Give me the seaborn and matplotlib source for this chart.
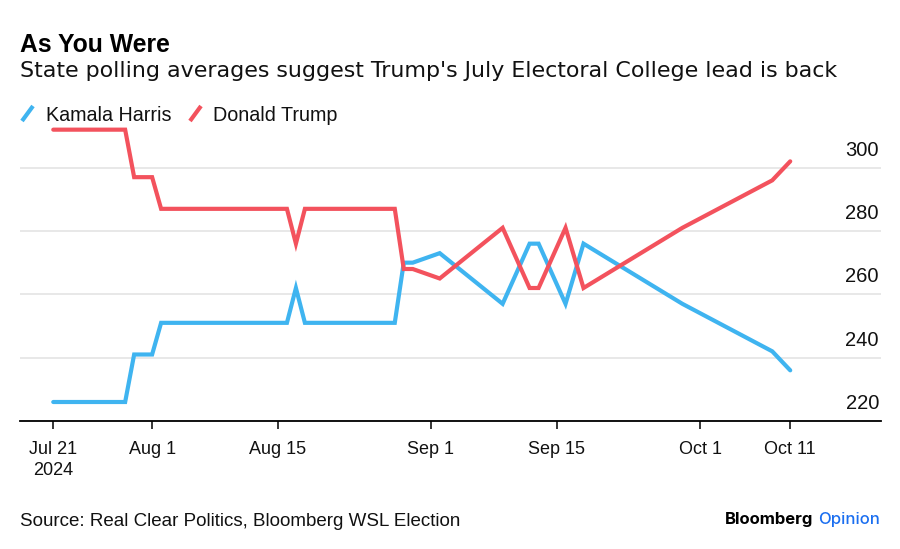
import matplotlib
matplotlib.use("Agg")
import matplotlib.pyplot as plt
import matplotlib.transforms as mtransforms
from matplotlib.lines import Line2D
import seaborn as sns
import pandas as pd

# ---- data ----
dates = ["2024-07-21", "2024-07-29", "2024-07-30", "2024-08-01", "2024-08-02",
         "2024-08-16", "2024-08-17", "2024-08-18", "2024-08-28", "2024-08-29",
         "2024-08-30", "2024-09-02", "2024-09-09", "2024-09-12", "2024-09-13",
         "2024-09-16", "2024-09-18", "2024-09-29", "2024-10-09", "2024-10-11"]
harris = [226, 226, 241, 241, 251, 251, 262, 251, 251, 270,
          270, 273, 257, 276, 276, 257, 276, 257, 242, 236]
trump = [312, 312, 297, 297, 287, 287, 276, 287, 287, 268,
         268, 265, 281, 262, 262, 281, 262, 281, 296, 302]
series_names = ["Kamala Harris", "Donald Trump"]
colors = ["#3FB4F0", "#F3525D"]
x_tick_dates = ["2024-07-21", "2024-08-01", "2024-08-15", "2024-09-01",
                "2024-09-15", "2024-10-01", "2024-10-11"]
x_tick_labels = ["Jul 21\n2024", "Aug 1", "Aug 15", "Sep 1", "Sep 15", "Oct 1", "Oct 11"]
y_ticks = [220, 240, 260, 280, 300]
y_tick_labels = ["220", "240", "260", "280", "300"]

title = "As You Were"
subtitle = "State polling averages suggest Trump's July Electoral College lead is back"
source = "Source: Real Clear Politics, Bloomberg WSL Election"

df = pd.DataFrame({
    "date": pd.to_datetime(dates * 2),
    "votes": harris + trump,
    "candidate": [series_names[0]] * len(dates) + [series_names[1]] * len(dates),
})

sns.set_theme(style="white")
FONT = ["Liberation Sans", "DejaVu Sans"]
plt.rcParams["font.family"] = FONT

W, H = 900, 549
fig = plt.figure(figsize=(W / 100, H / 100), dpi=100)

def fx(px):
    return px / W

def fy(py):
    return 1 - py / H

def fit_width(txt, target_px):
    """Scale a text's font size so it spans target_px pixels."""
    fig.canvas.draw()
    r = fig.canvas.get_renderer()
    w = txt.get_window_extent(renderer=r).width
    txt.set_fontsize(txt.get_fontsize() * target_px / w)

# axes: left 20px, right 881px, bottom 421px, top 117px
ax = fig.add_axes([fx(20), fy(421), fx(881) - fx(20), fy(117) - fy(421)])

sns.lineplot(data=df, x="date", y="votes", hue="candidate",
             hue_order=series_names, palette=colors, linewidth=3.0,
             legend=False, ax=ax, solid_joinstyle="miter")

t0 = pd.Timestamp("2024-07-21")
ax.set_xlim(t0 - pd.Timedelta(days=3.7), t0 + pd.Timedelta(days=92.1))
ax.set_ylim(220, 316)

ax.set_xlabel("")
ax.set_ylabel("")
for s in ["top", "right", "left"]:
    ax.spines[s].set_visible(False)
ax.spines["bottom"].set_color("black")
ax.spines["bottom"].set_linewidth(1.3)

ax.set_xticks(pd.to_datetime(x_tick_dates))
ax.set_xticklabels(x_tick_labels, fontsize=13, color="#111111", linespacing=1.3)
ax.tick_params(axis="x", direction="out", length=5.5, width=1.1, color="black", pad=9, bottom=True)

ax.set_yticks(y_ticks)
ax.set_yticklabels([])
ax.tick_params(axis="y", length=0)
ax.grid(axis="y", color="#E6E6E6", linewidth=1.3)
ax.grid(axis="x", visible=False)
ax.set_axisbelow(True)

blend = mtransforms.blended_transform_factory(ax.transAxes, ax.transData)
off = mtransforms.offset_copy(blend, fig=fig, x=-2, y=12, units="dots")
for v, lab in zip(y_ticks, y_tick_labels):
    ax.text(1.0, v, lab, transform=off, ha="right", va="baseline",
            fontsize=14.5, color="#111111")

# titles
t_title = fig.text(fx(20), fy(51.5), title, fontsize=17.5, fontweight="bold",
                   ha="left", va="baseline", color="black")
fit_width(t_title, 150)
t_sub = fig.text(fx(20), fy(77), subtitle, fontsize=14.4,
                 ha="left", va="baseline", color="#111111",
                 family=["DejaVu Sans"])
fit_width(t_sub, 817)

# legend
leg_items = [(22, 46, series_names[0], colors[0]), (190, 213, series_names[1], colors[1])]
for x0, xt, name, c in leg_items:
    fig.add_artist(Line2D([fx(x0), fx(x0 + 11)], [fy(121), fy(106)],
                          transform=fig.transFigure, color=c, linewidth=3.0,
                          solid_capstyle="butt"))
    fig.text(fx(xt), fy(121), name, fontsize=14.2, ha="left", va="baseline",
             color="#111111")

# footer
t_src = fig.text(fx(20), fy(526), source, fontsize=11.8, ha="left", va="baseline",
                 color="#111111")
fit_width(t_src, 442)
t_op = fig.text(fx(880), fy(524), "Opinion", fontsize=12, ha="right", va="baseline",
                color="#1A6EF0", family=["Inter", "DejaVu Sans"], fontweight="medium")
fig.canvas.draw()
bb = t_op.get_window_extent()
fig.text((bb.x0 - 5) / W, fy(524), "Bloomberg", fontsize=12, ha="right", va="baseline",
         color="black", family=["Inter", "DejaVu Sans"], fontweight="bold")

fig.savefig("out.png", dpi=100)
